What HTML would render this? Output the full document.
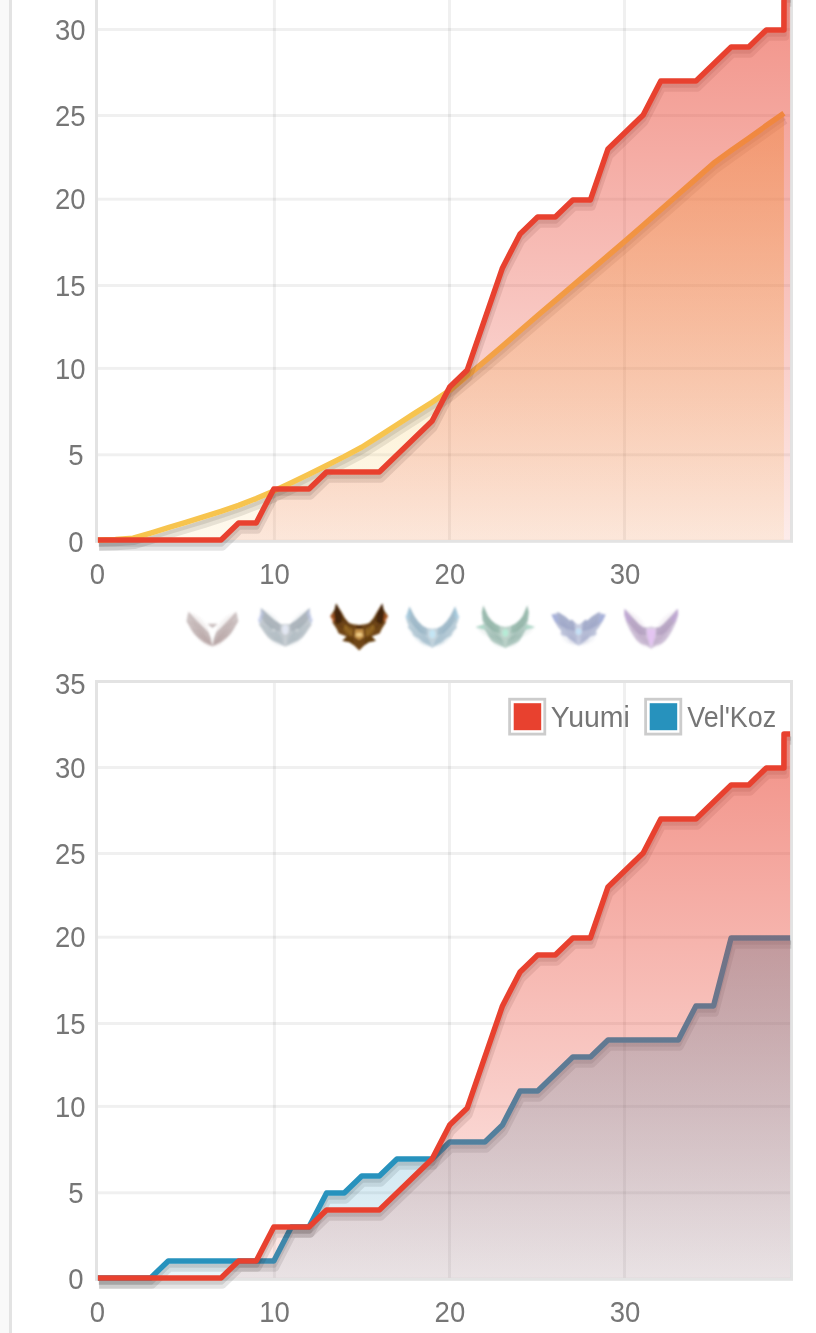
<!DOCTYPE html>
<html><head><meta charset="utf-8"><title>Chart</title>
<style>
html,body{margin:0;padding:0;background:#fff;}
body{width:816px;height:1333px;overflow:hidden;position:relative;}
svg{position:absolute;left:0;top:0;display:block;}
text{font-family:"Liberation Sans",sans-serif;font-size:28.8px;fill:#767676;}
</style></head><body>
<svg width="816" height="1333" viewBox="0 0 816 1333">
<rect x="0" y="0" width="9" height="1333" fill="#f9f9f9"/>
<rect x="9" y="0" width="3" height="1333" fill="#e3e3e3"/>
<defs><linearGradient id="gr1" gradientUnits="userSpaceOnUse" x1="0" y1="-55.0" x2="0" y2="539.9"><stop offset="0" stop-color="#e8412f" stop-opacity="0.62"/><stop offset="1" stop-color="#e8412f" stop-opacity="0.1"/></linearGradient><linearGradient id="gs1" gradientUnits="userSpaceOnUse" x1="0" y1="-55.0" x2="0" y2="539.9"><stop offset="0" stop-color="#f7c44e" stop-opacity="0.62"/><stop offset="1" stop-color="#f7c44e" stop-opacity="0.1"/></linearGradient></defs>
<rect x="97.9" y="28.00" width="692.2" height="3.0" fill="rgba(0,0,0,0.06)"/>
<rect x="97.9" y="114.00" width="692.2" height="3.0" fill="rgba(0,0,0,0.06)"/>
<rect x="97.9" y="197.70" width="692.2" height="3.0" fill="rgba(0,0,0,0.06)"/>
<rect x="97.9" y="284.00" width="692.2" height="3.0" fill="rgba(0,0,0,0.06)"/>
<rect x="97.9" y="366.90" width="692.2" height="3.0" fill="rgba(0,0,0,0.06)"/>
<rect x="97.9" y="453.30" width="692.2" height="3.0" fill="rgba(0,0,0,0.06)"/>
<rect x="272.90" y="-55.00" width="3.0" height="594.90" fill="rgba(0,0,0,0.06)"/>
<rect x="448.00" y="-55.00" width="3.0" height="594.90" fill="rgba(0,0,0,0.06)"/>
<rect x="623.00" y="-55.00" width="3.0" height="594.90" fill="rgba(0,0,0,0.06)"/>
<rect x="96.50" y="-56.50" width="695.00" height="597.80" fill="none" stroke="#e3e3e3" stroke-width="3.0"/>
<path d="M97.90,539.90 L115.49,539.39 L133.08,538.20 L150.67,533.10 L168.26,527.66 L185.85,522.39 L203.44,516.95 L221.03,511.34 L238.62,505.39 L256.21,498.59 L273.80,491.11 L291.39,482.78 L308.98,474.28 L326.57,465.44 L344.16,456.60 L361.75,447.25 L379.34,436.20 L396.93,424.81 L414.52,413.42 L432.11,402.20 L449.70,390.30 L467.29,375.85 L484.88,361.06 L502.47,346.10 L520.06,330.80 L537.65,315.50 L555.24,300.54 L572.83,285.58 L590.42,270.62 L608.01,255.66 L625.60,240.70 L643.19,225.23 L660.78,209.76 L678.37,194.29 L695.96,178.82 L713.55,163.35 L731.14,150.60 L748.73,138.19 L766.32,125.61 L783.91,113.20" transform="translate(1.19,6.77)" fill="none" stroke="#000" stroke-opacity="0.1" stroke-width="8.25" stroke-linejoin="round"/><path d="M97.90,539.90 L115.49,539.39 L133.08,538.20 L150.67,533.10 L168.26,527.66 L185.85,522.39 L203.44,516.95 L221.03,511.34 L238.62,505.39 L256.21,498.59 L273.80,491.11 L291.39,482.78 L308.98,474.28 L326.57,465.44 L344.16,456.60 L361.75,447.25 L379.34,436.20 L396.93,424.81 L414.52,413.42 L432.11,402.20 L449.70,390.30 L467.29,375.85 L484.88,361.06 L502.47,346.10 L520.06,330.80 L537.65,315.50 L555.24,300.54 L572.83,285.58 L590.42,270.62 L608.01,255.66 L625.60,240.70 L643.19,225.23 L660.78,209.76 L678.37,194.29 L695.96,178.82 L713.55,163.35 L731.14,150.60 L748.73,138.19 L766.32,125.61 L783.91,113.20" transform="translate(0.84,4.74)" fill="none" stroke="#000" stroke-opacity="0.1" stroke-width="4.12" stroke-linejoin="round"/><path d="M97.90,539.90 L115.49,539.39 L133.08,538.20 L150.67,533.10 L168.26,527.66 L185.85,522.39 L203.44,516.95 L221.03,511.34 L238.62,505.39 L256.21,498.59 L273.80,491.11 L291.39,482.78 L308.98,474.28 L326.57,465.44 L344.16,456.60 L361.75,447.25 L379.34,436.20 L396.93,424.81 L414.52,413.42 L432.11,402.20 L449.70,390.30 L467.29,375.85 L484.88,361.06 L502.47,346.10 L520.06,330.80 L537.65,315.50 L555.24,300.54 L572.83,285.58 L590.42,270.62 L608.01,255.66 L625.60,240.70 L643.19,225.23 L660.78,209.76 L678.37,194.29 L695.96,178.82 L713.55,163.35 L731.14,150.60 L748.73,138.19 L766.32,125.61 L783.91,113.20 L783.91,539.90 L97.90,539.90 Z" fill="url(#gs1)"/><path d="M97.90,539.90 L115.49,539.39 L133.08,538.20 L150.67,533.10 L168.26,527.66 L185.85,522.39 L203.44,516.95 L221.03,511.34 L238.62,505.39 L256.21,498.59 L273.80,491.11 L291.39,482.78 L308.98,474.28 L326.57,465.44 L344.16,456.60 L361.75,447.25 L379.34,436.20 L396.93,424.81 L414.52,413.42 L432.11,402.20 L449.70,390.30 L467.29,375.85 L484.88,361.06 L502.47,346.10 L520.06,330.80 L537.65,315.50 L555.24,300.54 L572.83,285.58 L590.42,270.62 L608.01,255.66 L625.60,240.70 L643.19,225.23 L660.78,209.76 L678.37,194.29 L695.96,178.82 L713.55,163.35 L731.14,150.60 L748.73,138.19 L766.32,125.61 L783.91,113.20" fill="none" stroke="#f7c44e" stroke-width="5.50" stroke-linejoin="round"/>
<path d="M97.90,539.90 L115.49,539.90 L133.08,539.90 L150.67,539.90 L168.26,539.90 L185.85,539.90 L203.44,539.90 L221.03,539.90 L238.62,522.90 L256.21,522.90 L273.80,488.90 L291.39,488.90 L308.98,488.90 L326.57,471.90 L344.16,471.90 L361.75,471.90 L379.34,471.90 L396.93,454.90 L414.52,437.90 L432.11,420.90 L449.70,386.90 L467.29,369.90 L484.88,318.90 L502.47,267.90 L520.06,233.90 L537.65,216.90 L555.24,216.90 L572.83,199.90 L590.42,199.90 L608.01,148.90 L625.60,131.90 L643.19,114.90 L660.78,80.90 L678.37,80.90 L695.96,80.90 L713.55,63.90 L731.14,46.90 L748.73,46.90 L766.32,29.90 L783.91,29.90 L784.01,-4.10 L790.10,-4.10" transform="translate(1.19,6.77)" fill="none" stroke="#000" stroke-opacity="0.1" stroke-width="8.25" stroke-linejoin="round"/><path d="M97.90,539.90 L115.49,539.90 L133.08,539.90 L150.67,539.90 L168.26,539.90 L185.85,539.90 L203.44,539.90 L221.03,539.90 L238.62,522.90 L256.21,522.90 L273.80,488.90 L291.39,488.90 L308.98,488.90 L326.57,471.90 L344.16,471.90 L361.75,471.90 L379.34,471.90 L396.93,454.90 L414.52,437.90 L432.11,420.90 L449.70,386.90 L467.29,369.90 L484.88,318.90 L502.47,267.90 L520.06,233.90 L537.65,216.90 L555.24,216.90 L572.83,199.90 L590.42,199.90 L608.01,148.90 L625.60,131.90 L643.19,114.90 L660.78,80.90 L678.37,80.90 L695.96,80.90 L713.55,63.90 L731.14,46.90 L748.73,46.90 L766.32,29.90 L783.91,29.90 L784.01,-4.10 L790.10,-4.10" transform="translate(0.84,4.74)" fill="none" stroke="#000" stroke-opacity="0.1" stroke-width="4.12" stroke-linejoin="round"/><path d="M97.90,539.90 L115.49,539.90 L133.08,539.90 L150.67,539.90 L168.26,539.90 L185.85,539.90 L203.44,539.90 L221.03,539.90 L238.62,522.90 L256.21,522.90 L273.80,488.90 L291.39,488.90 L308.98,488.90 L326.57,471.90 L344.16,471.90 L361.75,471.90 L379.34,471.90 L396.93,454.90 L414.52,437.90 L432.11,420.90 L449.70,386.90 L467.29,369.90 L484.88,318.90 L502.47,267.90 L520.06,233.90 L537.65,216.90 L555.24,216.90 L572.83,199.90 L590.42,199.90 L608.01,148.90 L625.60,131.90 L643.19,114.90 L660.78,80.90 L678.37,80.90 L695.96,80.90 L713.55,63.90 L731.14,46.90 L748.73,46.90 L766.32,29.90 L783.91,29.90 L784.01,-4.10 L790.10,-4.10 L790.10,539.90 L97.90,539.90 Z" fill="url(#gr1)"/><path d="M97.90,539.90 L115.49,539.90 L133.08,539.90 L150.67,539.90 L168.26,539.90 L185.85,539.90 L203.44,539.90 L221.03,539.90 L238.62,522.90 L256.21,522.90 L273.80,488.90 L291.39,488.90 L308.98,488.90 L326.57,471.90 L344.16,471.90 L361.75,471.90 L379.34,471.90 L396.93,454.90 L414.52,437.90 L432.11,420.90 L449.70,386.90 L467.29,369.90 L484.88,318.90 L502.47,267.90 L520.06,233.90 L537.65,216.90 L555.24,216.90 L572.83,199.90 L590.42,199.90 L608.01,148.90 L625.60,131.90 L643.19,114.90 L660.78,80.90 L678.37,80.90 L695.96,80.90 L713.55,63.90 L731.14,46.90 L748.73,46.90 L766.32,29.90 L783.91,29.90 L784.01,-4.10 L790.10,-4.10" fill="none" stroke="#e8412f" stroke-width="5.50" stroke-linejoin="round"/>
<text transform="translate(85.47,39.90) scale(0.955,1)" text-anchor="end">30</text>
<text transform="translate(85.47,126.00) scale(0.955,1)" text-anchor="end">25</text>
<text transform="translate(85.47,209.00) scale(0.955,1)" text-anchor="end">20</text>
<text transform="translate(85.47,296.20) scale(0.955,1)" text-anchor="end">15</text>
<text transform="translate(85.47,379.20) scale(0.955,1)" text-anchor="end">10</text>
<text transform="translate(83.52,465.00) scale(0.955,1)" text-anchor="end">5</text>
<text transform="translate(83.52,551.90) scale(0.955,1)" text-anchor="end">0</text>
<text transform="translate(97.50,583.80) scale(0.955,1)" text-anchor="middle">0</text>
<text transform="translate(274.60,583.80) scale(0.955,1)" text-anchor="middle">10</text>
<text transform="translate(449.90,583.80) scale(0.955,1)" text-anchor="middle">20</text>
<text transform="translate(625.00,583.80) scale(0.955,1)" text-anchor="middle">30</text>
<defs><filter id="ib" x="-20%" y="-20%" width="140%" height="140%"><feGaussianBlur stdDeviation="0.85"/></filter></defs>
<g filter="url(#ib)"><path d="M188.5,611.8 L192.1,615.8 L197.8,621.5 L204.3,628.0 L208.3,632.0 L211.1,638.1 L212.5,646.6 L209.5,644.9 L204.3,642.3 L199.0,638.5 L193.8,633.4 L189.7,627.1 L186.5,621.2 L187.3,616.2Z" fill="#8c7474" fill-opacity="0.42"/><path d="M236.2,611.8 L232.6,615.8 L226.9,621.5 L220.5,628.0 L216.4,632.0 L213.6,638.1 L212.2,646.6 L215.2,644.9 L220.5,642.3 L225.7,638.5 L231.0,633.4 L235.0,627.1 L238.3,621.2 L237.4,616.2Z" fill="#8c7474" fill-opacity="0.42"/><path d="M212.0,644.5 Q211.3,620.2 188.5,611.8 Q193.8,632.8 212.0,644.5Z" fill="#8c7474" fill-opacity="0.09"/><path d="M212.8,644.5 Q213.4,620.2 236.2,611.8 Q230.9,632.8 212.8,644.5Z" fill="#8c7474" fill-opacity="0.09"/><path d="M212.0,645.4 Q207.4,624.5 186.5,620.3 Q194.4,637.7 212.0,645.4Z" fill="#8c7474" fill-opacity="0.09"/><path d="M212.8,645.4 Q217.3,624.5 238.3,620.3 Q230.3,637.7 212.8,645.4Z" fill="#8c7474" fill-opacity="0.09"/><path d="M212.2,646.0 Q206.9,629.6 189.7,628.0 Q197.3,641.6 212.2,646.0Z" fill="#8c7474" fill-opacity="0.09"/><path d="M212.5,646.0 Q217.8,629.6 235.0,628.0 Q227.5,641.6 212.5,646.0Z" fill="#8c7474" fill-opacity="0.09"/><path d="M212.4,646.3 Q207.4,634.1 194.2,634.0 Q200.5,644.3 212.4,646.3Z" fill="#8c7474" fill-opacity="0.09"/><path d="M212.4,646.3 Q217.3,634.1 230.6,634.0 Q224.2,644.3 212.4,646.3Z" fill="#8c7474" fill-opacity="0.09"/><path d="M212.4,646.6 Q208.9,638.6 200.2,639.7 Q204.3,646.6 212.4,646.6Z" fill="#8c7474" fill-opacity="0.09"/><path d="M212.4,646.6 Q215.8,638.6 224.5,639.7 Q220.4,646.6 212.4,646.6Z" fill="#8c7474" fill-opacity="0.09"/><path d="M207.5,623.8 L217.6,623.8 L212.5,628.5Z" fill="#8c7474" fill-opacity="0.45"/><path d="M210.3,628.4 L214.8,628.4 L212.6,641.3Z" fill="#ffffff" fill-opacity="0.55"/></g>
<g filter="url(#ib)"><path d="M285.3,623.9 L280.3,623.9 L274.7,620.3 L267.8,614.2 L260.9,608.0 L261.9,613.8 L258.3,620.3 L259.9,623.5 L258.6,624.2 L262.9,630.8 L267.8,637.3 L273.4,640.9 L279.1,643.6 L285.3,646.8 L285.3,646.8 L291.6,643.6 L297.2,640.9 L302.9,637.3 L307.7,630.8 L312.0,624.2 L310.7,623.5 L312.4,620.3 L308.8,613.8 L309.8,608.0 L302.9,614.2 L296.0,620.3 L290.3,623.9 L285.3,623.9Z" fill="#7f8c98" fill-opacity="0.42"/><path d="M260.9,608.0 L267.8,614.2 L274.7,620.3 L280.3,623.9 L279.9,631.6 L272.2,628.8 L264.9,623.1 L259.7,616.2Z" fill="#76838f" fill-opacity="0.3"/><path d="M309.8,608.0 L302.9,614.2 L296.0,620.3 L290.3,623.9 L290.8,631.6 L298.4,628.8 L305.7,623.1 L311.0,616.2Z" fill="#76838f" fill-opacity="0.3"/><path d="M284.4,641.3 Q284.0,616.6 260.9,608.0 Q265.2,629.9 284.4,641.3Z" fill="#7f8c98" fill-opacity="0.09"/><path d="M286.3,641.3 Q286.6,616.6 309.8,608.0 Q305.5,629.9 286.3,641.3Z" fill="#7f8c98" fill-opacity="0.09"/><path d="M284.4,642.9 Q278.4,623.3 258.1,620.3 Q266.4,637.2 284.4,642.9Z" fill="#7f8c98" fill-opacity="0.09"/><path d="M286.3,642.9 Q292.3,623.3 312.6,620.3 Q304.3,637.2 286.3,642.9Z" fill="#7f8c98" fill-opacity="0.09"/><path d="M284.4,644.5 Q278.5,626.5 259.7,623.9 Q267.6,639.5 284.4,644.5Z" fill="#7f8c98" fill-opacity="0.09"/><path d="M286.3,644.5 Q292.2,626.5 311.0,623.9 Q303.0,639.5 286.3,644.5Z" fill="#7f8c98" fill-opacity="0.09"/><path d="M284.8,645.4 Q278.3,631.8 263.3,631.6 Q270.8,643.5 284.8,645.4Z" fill="#7f8c98" fill-opacity="0.09"/><path d="M285.9,645.4 Q292.4,631.8 307.3,631.6 Q299.8,643.5 285.9,645.4Z" fill="#7f8c98" fill-opacity="0.09"/><path d="M284.8,646.2 Q279.5,636.0 268.2,638.1 Q274.1,647.1 284.8,646.2Z" fill="#7f8c98" fill-opacity="0.09"/><path d="M285.9,646.2 Q291.2,636.0 302.5,638.1 Q296.6,647.1 285.9,646.2Z" fill="#7f8c98" fill-opacity="0.09"/><path d="M260.9,608.0 L264.1,613.4 L261.7,620.3 L258.5,623.9 L257.7,618.7 L260.5,613.4Z" fill="#c0ccff" fill-opacity="0.35"/><path d="M309.8,608.0 L306.5,613.4 L309.0,620.3 L312.2,623.9 L313.0,618.7 L310.2,613.4Z" fill="#c0ccff" fill-opacity="0.35"/><ellipse cx="285.3" cy="629.6" rx="3.2" ry="4.7" fill="#eef2ff" fill-opacity="0.7"/><ellipse cx="273.7" cy="630.0" rx="1.6" ry="1.6" fill="#ffffff" fill-opacity="0.3"/><ellipse cx="297.0" cy="630.0" rx="1.6" ry="1.6" fill="#ffffff" fill-opacity="0.3"/></g>
<g filter="url(#ib)"><path d="M359.2,625.0 L353.1,624.3 L349.1,623.1 L345.0,618.2 L341.8,612.6 L336.1,603.4 L334.5,609.8 L330.2,616.2 L333.3,619.5 L332.6,622.7 L336.4,628.4 L338.8,633.4 L346.6,636.5 L342.4,640.7 L349.5,642.3 L353.9,645.2 L359.2,650.6 L359.2,650.6 L364.4,645.2 L368.9,642.3 L375.9,640.7 L371.7,636.5 L379.6,633.4 L382.0,628.4 L385.7,622.7 L385.1,619.5 L388.1,616.2 L383.8,609.8 L382.2,603.4 L376.6,612.6 L373.3,618.2 L369.3,623.1 L365.2,624.3 L359.2,625.0Z" fill="#6e4416" fill-opacity="1.0"/><path d="M336.1,603.4 L341.4,613.4 L342.2,621.9 L336.5,624.3 L333.4,616.6 L334.7,609.8Z" fill="#40220a" fill-opacity="0.9"/><path d="M382.2,603.4 L377.0,613.4 L376.2,621.9 L381.8,624.3 L384.9,616.6 L383.6,609.8Z" fill="#40220a" fill-opacity="0.9"/><path d="M330.2,616.2 L334.1,612.6 L335.1,620.3 L332.9,622.7Z" fill="#c4622c" fill-opacity="0.6"/><path d="M388.1,616.2 L384.3,612.6 L383.3,620.3 L385.5,622.7Z" fill="#c4622c" fill-opacity="0.6"/><path d="M345.4,624.3 L352.7,629.2 L352.3,636.5 L346.6,634.0 L343.0,629.2Z" fill="#a07228" fill-opacity="0.75"/><path d="M372.9,624.3 L365.6,629.2 L366.0,636.5 L371.7,634.0 L375.4,629.2Z" fill="#a07228" fill-opacity="0.75"/><path d="M346.6,636.5 L353.5,638.1 L353.9,645.2 L349.5,642.3 L342.4,640.7Z" fill="#5e3a0e" fill-opacity="0.6"/><path d="M371.7,636.5 L364.8,638.1 L364.4,645.2 L368.9,642.3 L375.9,640.7Z" fill="#5e3a0e" fill-opacity="0.6"/><path d="M355.3,629.2 L363.1,629.2 L363.9,636.9 L359.2,640.1 L354.5,636.9Z" fill="#c8964a" fill-opacity="0.95"/><ellipse cx="359.2" cy="634.7" rx="3.1" ry="1.9" fill="#f2d28c" fill-opacity="0.95"/><ellipse cx="359.2" cy="627.4" rx="3.4" ry="1.3" fill="#46240a" fill-opacity="0.9"/><line x1="338.1" y1="612.2" x2="350.3" y2="630.0" stroke="#3a2006" stroke-opacity="0.5" stroke-width="0.8" stroke-linecap="round"/><line x1="380.2" y1="612.2" x2="368.1" y2="630.0" stroke="#3a2006" stroke-opacity="0.5" stroke-width="0.8" stroke-linecap="round"/><line x1="334.9" y1="620.3" x2="348.7" y2="634.0" stroke="#3a2006" stroke-opacity="0.5" stroke-width="0.8" stroke-linecap="round"/><line x1="383.4" y1="620.3" x2="369.7" y2="634.0" stroke="#3a2006" stroke-opacity="0.5" stroke-width="0.8" stroke-linecap="round"/><line x1="341.4" y1="616.2" x2="352.7" y2="628.4" stroke="#3a2006" stroke-opacity="0.5" stroke-width="0.8" stroke-linecap="round"/><line x1="377.0" y1="616.2" x2="365.6" y2="628.4" stroke="#3a2006" stroke-opacity="0.5" stroke-width="0.8" stroke-linecap="round"/></g>
<g filter="url(#ib)"><path d="M432.3,628.8 L426.9,628.0 L422.9,626.1 L418.0,621.2 L414.2,616.0 L409.5,606.4 L408.1,612.2 L405.5,616.6 L407.3,622.7 L408.7,625.5 L407.5,627.1 L411.9,632.0 L413.2,635.6 L418.0,638.1 L423.3,642.5 L428.1,645.2 L432.3,647.9 L432.3,647.9 L436.5,645.2 L441.4,642.5 L446.7,638.1 L451.5,635.6 L452.7,632.0 L457.2,627.1 L456.0,625.5 L457.4,622.7 L459.2,616.6 L456.6,612.2 L455.1,606.4 L450.5,616.0 L446.7,621.2 L441.8,626.1 L437.8,628.0 L432.3,628.8Z" fill="#6f96ad" fill-opacity="0.42"/><path d="M409.5,606.4 L414.2,616.0 L418.0,621.2 L422.9,626.1 L426.9,628.0 L427.3,635.2 L420.8,632.8 L414.4,627.1 L408.7,619.1 L407.1,612.2Z" fill="#658ca3" fill-opacity="0.3"/><path d="M455.1,606.4 L450.5,616.0 L446.7,621.2 L441.8,626.1 L437.8,628.0 L437.3,635.2 L443.8,632.8 L450.3,627.1 L456.0,619.1 L457.6,612.2Z" fill="#658ca3" fill-opacity="0.3"/><path d="M431.4,642.9 Q420.2,624.8 409.5,606.4 Q410.2,630.7 431.4,642.9Z" fill="#6f96ad" fill-opacity="0.09"/><path d="M433.3,642.9 Q444.4,624.8 455.1,606.4 Q454.5,630.7 433.3,642.9Z" fill="#6f96ad" fill-opacity="0.09"/><path d="M431.4,643.7 Q421.3,627.4 405.5,616.6 Q410.2,638.0 431.4,643.7Z" fill="#6f96ad" fill-opacity="0.09"/><path d="M433.3,643.7 Q443.3,627.4 459.2,616.6 Q454.4,638.0 433.3,643.7Z" fill="#6f96ad" fill-opacity="0.09"/><path d="M431.4,644.5 Q424.3,629.2 407.5,627.1 Q413.4,644.1 431.4,644.5Z" fill="#6f96ad" fill-opacity="0.09"/><path d="M433.3,644.5 Q440.4,629.2 457.2,627.1 Q451.2,644.1 433.3,644.5Z" fill="#6f96ad" fill-opacity="0.09"/><path d="M431.8,645.4 Q426.0,633.7 413.2,635.6 Q418.9,647.3 431.8,645.4Z" fill="#6f96ad" fill-opacity="0.09"/><path d="M432.9,645.4 Q438.6,633.7 451.5,635.6 Q445.8,647.3 432.9,645.4Z" fill="#6f96ad" fill-opacity="0.09"/><path d="M431.8,646.2 Q427.9,637.6 419.2,641.3 Q423.4,649.1 431.8,646.2Z" fill="#6f96ad" fill-opacity="0.09"/><path d="M432.9,646.2 Q436.8,637.6 445.4,641.3 Q441.2,649.1 432.9,646.2Z" fill="#6f96ad" fill-opacity="0.09"/><ellipse cx="432.3" cy="634.0" rx="2.9" ry="4.0" fill="#c4eeff" fill-opacity="0.7"/><path d="M409.5,606.4 L411.1,614.6 L407.9,620.3 L405.3,616.6 L407.5,612.2Z" fill="#9cd8f4" fill-opacity="0.3"/><path d="M455.1,606.4 L453.5,614.6 L456.8,620.3 L459.4,616.6 L457.2,612.2Z" fill="#9cd8f4" fill-opacity="0.3"/></g>
<g filter="url(#ib)"><path d="M505.3,626.9 L499.5,625.8 L495.5,623.8 L491.0,620.0 L487.8,616.0 L483.3,605.5 L482.1,612.2 L482.5,620.3 L484.1,623.9 L475.6,627.1 L484.9,630.0 L488.2,635.6 L491.4,640.9 L498.7,644.4 L505.3,648.2 L505.3,648.2 L512.0,644.4 L519.2,640.9 L522.5,635.6 L525.7,630.0 L535.0,627.1 L526.5,623.9 L528.1,620.3 L528.6,612.2 L527.3,605.5 L522.9,616.0 L519.7,620.0 L515.2,623.8 L511.2,625.8 L505.3,626.9Z" fill="#5f9480" fill-opacity="0.42"/><path d="M483.3,605.5 L487.8,616.0 L491.0,620.0 L495.5,623.8 L499.5,625.8 L499.9,633.6 L493.4,631.2 L487.4,626.3 L482.9,619.9 L481.5,612.2Z" fill="#558a76" fill-opacity="0.3"/><path d="M527.3,605.5 L522.9,616.0 L519.7,620.0 L515.2,623.8 L511.2,625.8 L510.8,633.6 L517.2,631.2 L523.3,626.3 L527.7,619.9 L529.1,612.2Z" fill="#558a76" fill-opacity="0.3"/><path d="M504.4,642.9 Q493.3,624.5 483.3,605.5 Q483.1,630.3 504.4,642.9Z" fill="#5f9480" fill-opacity="0.09"/><path d="M506.3,642.9 Q517.4,624.5 527.3,605.5 Q527.6,630.3 506.3,642.9Z" fill="#5f9480" fill-opacity="0.09"/><path d="M504.4,643.7 Q496.5,628.9 482.1,620.3 Q485.3,639.5 504.4,643.7Z" fill="#5f9480" fill-opacity="0.09"/><path d="M506.3,643.7 Q514.2,628.9 528.6,620.3 Q525.4,639.5 506.3,643.7Z" fill="#5f9480" fill-opacity="0.09"/><path d="M504.4,641.3 Q492.9,628.4 475.6,627.1 Q486.8,640.8 504.4,641.3Z" fill="#5f9480" fill-opacity="0.09"/><path d="M506.3,641.3 Q517.8,628.4 535.0,627.1 Q523.9,640.8 506.3,641.3Z" fill="#5f9480" fill-opacity="0.09"/><path d="M504.8,645.4 Q500.4,632.9 487.4,634.8 Q491.7,647.3 504.8,645.4Z" fill="#5f9480" fill-opacity="0.09"/><path d="M505.9,645.4 Q510.2,632.9 523.3,634.8 Q519.0,647.3 505.9,645.4Z" fill="#5f9480" fill-opacity="0.09"/><path d="M504.8,646.2 Q500.7,637.8 492.2,641.7 Q496.6,649.4 504.8,646.2Z" fill="#5f9480" fill-opacity="0.09"/><path d="M505.9,646.2 Q510.0,637.8 518.4,641.7 Q514.1,649.4 505.9,646.2Z" fill="#5f9480" fill-opacity="0.09"/><ellipse cx="505.3" cy="632.8" rx="2.8" ry="3.6" fill="#b4f8dc" fill-opacity="0.7"/><path d="M475.6,627.1 L484.1,624.7 L485.3,629.6Z" fill="#98f0cc" fill-opacity="0.3"/><path d="M535.0,627.1 L526.5,624.7 L525.3,629.6Z" fill="#98f0cc" fill-opacity="0.3"/></g>
<g filter="url(#ib)"><path d="M578.6,624.7 L574.9,622.5 L571.7,619.5 L570.1,620.7 L565.2,616.6 L557.9,612.0 L557.1,614.2 L551.3,614.4 L553.9,620.3 L557.9,626.7 L561.2,630.8 L560.4,634.0 L562.4,635.6 L566.8,636.5 L571.7,641.1 L578.6,645.8 L578.6,645.8 L585.5,641.1 L590.3,636.5 L594.8,635.6 L596.8,634.0 L596.0,630.8 L599.2,626.7 L603.3,620.3 L605.8,614.4 L600.0,614.2 L599.2,612.0 L591.9,616.6 L587.1,620.7 L585.5,619.5 L582.2,622.5 L578.6,624.7Z" fill="#7684b4" fill-opacity="0.41"/><path d="M557.9,612.0 L565.2,616.6 L570.1,620.7 L571.7,619.5 L574.9,622.5 L574.8,631.2 L568.5,629.6 L561.2,626.3 L554.7,620.7 L551.9,614.8Z" fill="#6c7aaa" fill-opacity="0.3"/><path d="M599.2,612.0 L591.9,616.6 L587.1,620.7 L585.5,619.5 L582.2,622.5 L582.4,631.2 L588.7,629.6 L596.0,626.3 L602.4,620.7 L605.3,614.8Z" fill="#6c7aaa" fill-opacity="0.3"/><path d="M577.8,641.3 Q576.2,621.0 557.9,612.0 Q560.9,631.4 577.8,641.3Z" fill="#7684b4" fill-opacity="0.09"/><path d="M579.4,641.3 Q581.0,621.0 599.2,612.0 Q596.3,631.4 579.4,641.3Z" fill="#7684b4" fill-opacity="0.09"/><path d="M577.8,642.5 Q572.3,621.2 551.3,614.4 Q558.9,633.8 577.8,642.5Z" fill="#7684b4" fill-opacity="0.09"/><path d="M579.4,642.5 Q584.8,621.2 605.8,614.4 Q598.3,633.8 579.4,642.5Z" fill="#7684b4" fill-opacity="0.09"/><path d="M577.8,643.7 Q571.9,625.8 553.9,620.3 Q561.1,636.8 577.8,643.7Z" fill="#7684b4" fill-opacity="0.09"/><path d="M579.4,643.7 Q585.2,625.8 603.3,620.3 Q596.0,636.8 579.4,643.7Z" fill="#7684b4" fill-opacity="0.09"/><path d="M577.8,644.5 Q573.7,631.7 560.4,634.0 Q564.9,646.2 577.8,644.5Z" fill="#7684b4" fill-opacity="0.09"/><path d="M579.4,644.5 Q583.5,631.7 596.8,634.0 Q592.2,646.2 579.4,644.5Z" fill="#7684b4" fill-opacity="0.09"/><path d="M578.2,645.4 Q576.2,636.2 566.8,636.9 Q568.8,646.0 578.2,645.4Z" fill="#7684b4" fill-opacity="0.09"/><path d="M579.0,645.4 Q581.0,636.2 590.3,636.9 Q588.3,646.0 579.0,645.4Z" fill="#7684b4" fill-opacity="0.09"/><path d="M577.8,639.7 Q579.0,627.7 570.1,619.5 Q568.9,631.5 577.8,639.7Z" fill="#7684b4" fill-opacity="0.09"/><path d="M579.4,639.7 Q578.2,627.7 587.1,619.5 Q588.3,631.5 579.4,639.7Z" fill="#7684b4" fill-opacity="0.09"/><ellipse cx="578.6" cy="631.6" rx="2.9" ry="3.2" fill="#c4e8ff" fill-opacity="0.7"/><path d="M551.3,614.4 L557.1,614.2 L558.8,622.7 L554.7,621.9Z" fill="#a8b8ff" fill-opacity="0.25"/><path d="M605.8,614.4 L600.0,614.2 L598.4,622.7 L602.4,621.9Z" fill="#a8b8ff" fill-opacity="0.25"/></g>
<g filter="url(#ib)"><path d="M651.2,626.4 L646.3,627.4 L643.1,627.2 L639.0,624.3 L634.2,619.1 L624.5,608.8 L624.1,614.6 L625.4,620.3 L628.5,627.6 L632.6,634.7 L637.0,641.0 L641.5,644.1 L646.3,645.2 L651.2,649.0 L651.2,649.0 L656.0,645.2 L660.9,644.1 L665.3,641.0 L669.8,634.7 L673.8,627.6 L676.9,620.3 L678.3,614.6 L677.9,608.8 L668.2,619.1 L663.3,624.3 L659.3,627.2 L656.0,627.4 L651.2,626.4Z" fill="#9478a8" fill-opacity="0.36"/><path d="M624.5,608.8 L634.2,619.1 L639.0,624.3 L643.1,627.2 L646.3,627.4 L646.5,635.2 L639.8,634.4 L633.4,628.8 L627.7,621.5 L624.3,614.6Z" fill="#8a6e9e" fill-opacity="0.28"/><path d="M677.9,608.8 L668.2,619.1 L663.3,624.3 L659.3,627.2 L656.0,627.4 L655.9,635.2 L662.5,634.4 L669.0,628.8 L674.6,621.5 L678.0,614.6Z" fill="#8a6e9e" fill-opacity="0.28"/><path d="M650.0,643.7 Q648.2,618.3 624.5,608.8 Q629.5,631.9 650.0,643.7Z" fill="#9478a8" fill-opacity="0.085"/><path d="M652.4,643.7 Q654.2,618.3 677.9,608.8 Q672.8,631.9 652.4,643.7Z" fill="#9478a8" fill-opacity="0.085"/><path d="M650.0,644.5 Q645.9,622.0 624.1,615.0 Q630.8,635.2 650.0,644.5Z" fill="#9478a8" fill-opacity="0.085"/><path d="M652.4,644.5 Q656.5,622.0 678.3,615.0 Q671.5,635.2 652.4,644.5Z" fill="#9478a8" fill-opacity="0.085"/><path d="M650.2,645.4 Q644.7,626.3 625.7,621.1 Q632.8,638.4 650.2,645.4Z" fill="#9478a8" fill-opacity="0.085"/><path d="M652.1,645.4 Q657.6,626.3 676.7,621.1 Q669.5,638.4 652.1,645.4Z" fill="#9478a8" fill-opacity="0.085"/><path d="M650.4,646.2 Q645.1,630.7 628.9,628.4 Q635.2,642.6 650.4,646.2Z" fill="#9478a8" fill-opacity="0.085"/><path d="M652.0,646.2 Q657.3,630.7 673.4,628.4 Q667.1,642.6 652.0,646.2Z" fill="#9478a8" fill-opacity="0.085"/><path d="M650.5,647.0 Q645.4,635.7 633.0,635.2 Q638.6,645.9 650.5,647.0Z" fill="#9478a8" fill-opacity="0.085"/><path d="M651.8,647.0 Q657.0,635.7 669.4,635.2 Q663.8,645.9 651.8,647.0Z" fill="#9478a8" fill-opacity="0.085"/><path d="M650.8,647.8 Q646.5,640.2 637.8,641.3 Q642.3,648.5 650.8,647.8Z" fill="#9478a8" fill-opacity="0.085"/><path d="M651.6,647.8 Q655.9,640.2 664.5,641.3 Q660.0,648.5 651.6,647.8Z" fill="#9478a8" fill-opacity="0.085"/><path d="M646.7,629.2 L655.6,629.2 L654.8,638.1 L651.2,647.0 L647.5,638.1Z" fill="#ecc0ff" fill-opacity="0.6"/><path d="M624.5,608.8 L631.8,618.7 L627.7,622.7 L624.3,615.4Z" fill="#c89cf0" fill-opacity="0.25"/><path d="M677.9,608.8 L670.6,618.7 L674.6,622.7 L678.0,615.4Z" fill="#c89cf0" fill-opacity="0.25"/></g>
<defs><linearGradient id="gr2" gradientUnits="userSpaceOnUse" x1="0" y1="683.0" x2="0" y2="1277.9"><stop offset="0" stop-color="#e8412f" stop-opacity="0.62"/><stop offset="1" stop-color="#e8412f" stop-opacity="0.1"/></linearGradient><linearGradient id="gs2" gradientUnits="userSpaceOnUse" x1="0" y1="683.0" x2="0" y2="1277.9"><stop offset="0" stop-color="#2792bd" stop-opacity="0.62"/><stop offset="1" stop-color="#2792bd" stop-opacity="0.1"/></linearGradient></defs>
<rect x="97.9" y="766.00" width="692.2" height="3.0" fill="rgba(0,0,0,0.06)"/>
<rect x="97.9" y="852.00" width="692.2" height="3.0" fill="rgba(0,0,0,0.06)"/>
<rect x="97.9" y="935.70" width="692.2" height="3.0" fill="rgba(0,0,0,0.06)"/>
<rect x="97.9" y="1022.00" width="692.2" height="3.0" fill="rgba(0,0,0,0.06)"/>
<rect x="97.9" y="1104.90" width="692.2" height="3.0" fill="rgba(0,0,0,0.06)"/>
<rect x="97.9" y="1191.30" width="692.2" height="3.0" fill="rgba(0,0,0,0.06)"/>
<rect x="272.90" y="683.00" width="3.0" height="594.90" fill="rgba(0,0,0,0.06)"/>
<rect x="448.00" y="683.00" width="3.0" height="594.90" fill="rgba(0,0,0,0.06)"/>
<rect x="623.00" y="683.00" width="3.0" height="594.90" fill="rgba(0,0,0,0.06)"/>
<rect x="96.50" y="681.50" width="695.00" height="597.80" fill="none" stroke="#e3e3e3" stroke-width="3.0"/>
<path d="M97.90,1277.90 L115.49,1277.90 L133.08,1277.90 L150.67,1277.90 L168.26,1260.90 L185.85,1260.90 L203.44,1260.90 L221.03,1260.90 L238.62,1260.90 L256.21,1260.90 L273.80,1260.90 L291.39,1226.90 L308.98,1226.90 L326.57,1192.90 L344.16,1192.90 L361.75,1175.90 L379.34,1175.90 L396.93,1158.90 L414.52,1158.90 L432.11,1158.90 L449.70,1141.90 L467.29,1141.90 L484.88,1141.90 L502.47,1124.90 L520.06,1090.90 L537.65,1090.90 L555.24,1073.90 L572.83,1056.90 L590.42,1056.90 L608.01,1039.90 L625.60,1039.90 L643.19,1039.90 L660.78,1039.90 L678.37,1039.90 L695.96,1005.90 L713.55,1005.90 L731.14,937.90 L748.73,937.90 L766.32,937.90 L783.91,937.90 L790.10,937.90" transform="translate(1.19,6.77)" fill="none" stroke="#000" stroke-opacity="0.1" stroke-width="8.25" stroke-linejoin="round"/><path d="M97.90,1277.90 L115.49,1277.90 L133.08,1277.90 L150.67,1277.90 L168.26,1260.90 L185.85,1260.90 L203.44,1260.90 L221.03,1260.90 L238.62,1260.90 L256.21,1260.90 L273.80,1260.90 L291.39,1226.90 L308.98,1226.90 L326.57,1192.90 L344.16,1192.90 L361.75,1175.90 L379.34,1175.90 L396.93,1158.90 L414.52,1158.90 L432.11,1158.90 L449.70,1141.90 L467.29,1141.90 L484.88,1141.90 L502.47,1124.90 L520.06,1090.90 L537.65,1090.90 L555.24,1073.90 L572.83,1056.90 L590.42,1056.90 L608.01,1039.90 L625.60,1039.90 L643.19,1039.90 L660.78,1039.90 L678.37,1039.90 L695.96,1005.90 L713.55,1005.90 L731.14,937.90 L748.73,937.90 L766.32,937.90 L783.91,937.90 L790.10,937.90" transform="translate(0.84,4.74)" fill="none" stroke="#000" stroke-opacity="0.1" stroke-width="4.12" stroke-linejoin="round"/><path d="M97.90,1277.90 L115.49,1277.90 L133.08,1277.90 L150.67,1277.90 L168.26,1260.90 L185.85,1260.90 L203.44,1260.90 L221.03,1260.90 L238.62,1260.90 L256.21,1260.90 L273.80,1260.90 L291.39,1226.90 L308.98,1226.90 L326.57,1192.90 L344.16,1192.90 L361.75,1175.90 L379.34,1175.90 L396.93,1158.90 L414.52,1158.90 L432.11,1158.90 L449.70,1141.90 L467.29,1141.90 L484.88,1141.90 L502.47,1124.90 L520.06,1090.90 L537.65,1090.90 L555.24,1073.90 L572.83,1056.90 L590.42,1056.90 L608.01,1039.90 L625.60,1039.90 L643.19,1039.90 L660.78,1039.90 L678.37,1039.90 L695.96,1005.90 L713.55,1005.90 L731.14,937.90 L748.73,937.90 L766.32,937.90 L783.91,937.90 L790.10,937.90 L790.10,1277.90 L97.90,1277.90 Z" fill="url(#gs2)"/><path d="M97.90,1277.90 L115.49,1277.90 L133.08,1277.90 L150.67,1277.90 L168.26,1260.90 L185.85,1260.90 L203.44,1260.90 L221.03,1260.90 L238.62,1260.90 L256.21,1260.90 L273.80,1260.90 L291.39,1226.90 L308.98,1226.90 L326.57,1192.90 L344.16,1192.90 L361.75,1175.90 L379.34,1175.90 L396.93,1158.90 L414.52,1158.90 L432.11,1158.90 L449.70,1141.90 L467.29,1141.90 L484.88,1141.90 L502.47,1124.90 L520.06,1090.90 L537.65,1090.90 L555.24,1073.90 L572.83,1056.90 L590.42,1056.90 L608.01,1039.90 L625.60,1039.90 L643.19,1039.90 L660.78,1039.90 L678.37,1039.90 L695.96,1005.90 L713.55,1005.90 L731.14,937.90 L748.73,937.90 L766.32,937.90 L783.91,937.90 L790.10,937.90" fill="none" stroke="#2792bd" stroke-width="5.50" stroke-linejoin="round"/>
<path d="M97.90,1277.90 L115.49,1277.90 L133.08,1277.90 L150.67,1277.90 L168.26,1277.90 L185.85,1277.90 L203.44,1277.90 L221.03,1277.90 L238.62,1260.90 L256.21,1260.90 L273.80,1226.90 L291.39,1226.90 L308.98,1226.90 L326.57,1209.90 L344.16,1209.90 L361.75,1209.90 L379.34,1209.90 L396.93,1192.90 L414.52,1175.90 L432.11,1158.90 L449.70,1124.90 L467.29,1107.90 L484.88,1056.90 L502.47,1005.90 L520.06,971.90 L537.65,954.90 L555.24,954.90 L572.83,937.90 L590.42,937.90 L608.01,886.90 L625.60,869.90 L643.19,852.90 L660.78,818.90 L678.37,818.90 L695.96,818.90 L713.55,801.90 L731.14,784.90 L748.73,784.90 L766.32,767.90 L783.91,767.90 L784.01,733.90 L790.10,733.90" transform="translate(1.19,6.77)" fill="none" stroke="#000" stroke-opacity="0.1" stroke-width="8.25" stroke-linejoin="round"/><path d="M97.90,1277.90 L115.49,1277.90 L133.08,1277.90 L150.67,1277.90 L168.26,1277.90 L185.85,1277.90 L203.44,1277.90 L221.03,1277.90 L238.62,1260.90 L256.21,1260.90 L273.80,1226.90 L291.39,1226.90 L308.98,1226.90 L326.57,1209.90 L344.16,1209.90 L361.75,1209.90 L379.34,1209.90 L396.93,1192.90 L414.52,1175.90 L432.11,1158.90 L449.70,1124.90 L467.29,1107.90 L484.88,1056.90 L502.47,1005.90 L520.06,971.90 L537.65,954.90 L555.24,954.90 L572.83,937.90 L590.42,937.90 L608.01,886.90 L625.60,869.90 L643.19,852.90 L660.78,818.90 L678.37,818.90 L695.96,818.90 L713.55,801.90 L731.14,784.90 L748.73,784.90 L766.32,767.90 L783.91,767.90 L784.01,733.90 L790.10,733.90" transform="translate(0.84,4.74)" fill="none" stroke="#000" stroke-opacity="0.1" stroke-width="4.12" stroke-linejoin="round"/><path d="M97.90,1277.90 L115.49,1277.90 L133.08,1277.90 L150.67,1277.90 L168.26,1277.90 L185.85,1277.90 L203.44,1277.90 L221.03,1277.90 L238.62,1260.90 L256.21,1260.90 L273.80,1226.90 L291.39,1226.90 L308.98,1226.90 L326.57,1209.90 L344.16,1209.90 L361.75,1209.90 L379.34,1209.90 L396.93,1192.90 L414.52,1175.90 L432.11,1158.90 L449.70,1124.90 L467.29,1107.90 L484.88,1056.90 L502.47,1005.90 L520.06,971.90 L537.65,954.90 L555.24,954.90 L572.83,937.90 L590.42,937.90 L608.01,886.90 L625.60,869.90 L643.19,852.90 L660.78,818.90 L678.37,818.90 L695.96,818.90 L713.55,801.90 L731.14,784.90 L748.73,784.90 L766.32,767.90 L783.91,767.90 L784.01,733.90 L790.10,733.90 L790.10,1277.90 L97.90,1277.90 Z" fill="url(#gr2)"/><path d="M97.90,1277.90 L115.49,1277.90 L133.08,1277.90 L150.67,1277.90 L168.26,1277.90 L185.85,1277.90 L203.44,1277.90 L221.03,1277.90 L238.62,1260.90 L256.21,1260.90 L273.80,1226.90 L291.39,1226.90 L308.98,1226.90 L326.57,1209.90 L344.16,1209.90 L361.75,1209.90 L379.34,1209.90 L396.93,1192.90 L414.52,1175.90 L432.11,1158.90 L449.70,1124.90 L467.29,1107.90 L484.88,1056.90 L502.47,1005.90 L520.06,971.90 L537.65,954.90 L555.24,954.90 L572.83,937.90 L590.42,937.90 L608.01,886.90 L625.60,869.90 L643.19,852.90 L660.78,818.90 L678.37,818.90 L695.96,818.90 L713.55,801.90 L731.14,784.90 L748.73,784.90 L766.32,767.90 L783.91,767.90 L784.01,733.90 L790.10,733.90" fill="none" stroke="#e8412f" stroke-width="5.50" stroke-linejoin="round"/>
<text transform="translate(85.47,693.70) scale(0.955,1)" text-anchor="end">35</text>
<text transform="translate(85.47,777.90) scale(0.955,1)" text-anchor="end">30</text>
<text transform="translate(85.47,864.00) scale(0.955,1)" text-anchor="end">25</text>
<text transform="translate(85.47,947.00) scale(0.955,1)" text-anchor="end">20</text>
<text transform="translate(85.47,1034.20) scale(0.955,1)" text-anchor="end">15</text>
<text transform="translate(85.47,1117.20) scale(0.955,1)" text-anchor="end">10</text>
<text transform="translate(83.52,1203.00) scale(0.955,1)" text-anchor="end">5</text>
<text transform="translate(83.52,1288.70) scale(0.955,1)" text-anchor="end">0</text>
<text transform="translate(97.50,1321.80) scale(0.955,1)" text-anchor="middle">0</text>
<text transform="translate(274.60,1321.80) scale(0.955,1)" text-anchor="middle">10</text>
<text transform="translate(449.90,1321.80) scale(0.955,1)" text-anchor="middle">20</text>
<text transform="translate(625.00,1321.80) scale(0.955,1)" text-anchor="middle">30</text>
<rect x="509.60" y="699.20" width="35.20" height="34.90" fill="#fff" stroke="#ccc" stroke-width="2.8"/><rect x="513.70" y="703.20" width="27.5" height="27.0" fill="#e8412f"/>
<text transform="translate(550.80,726.90) scale(0.987,1)">Yuumi</text>
<rect x="645.60" y="699.20" width="35.20" height="34.90" fill="#fff" stroke="#ccc" stroke-width="2.8"/><rect x="649.70" y="703.20" width="27.5" height="27.0" fill="#2792bd"/>
<text transform="translate(687.30,726.90) scale(0.935,1)">Vel'Koz</text>
</svg>
</body></html>
